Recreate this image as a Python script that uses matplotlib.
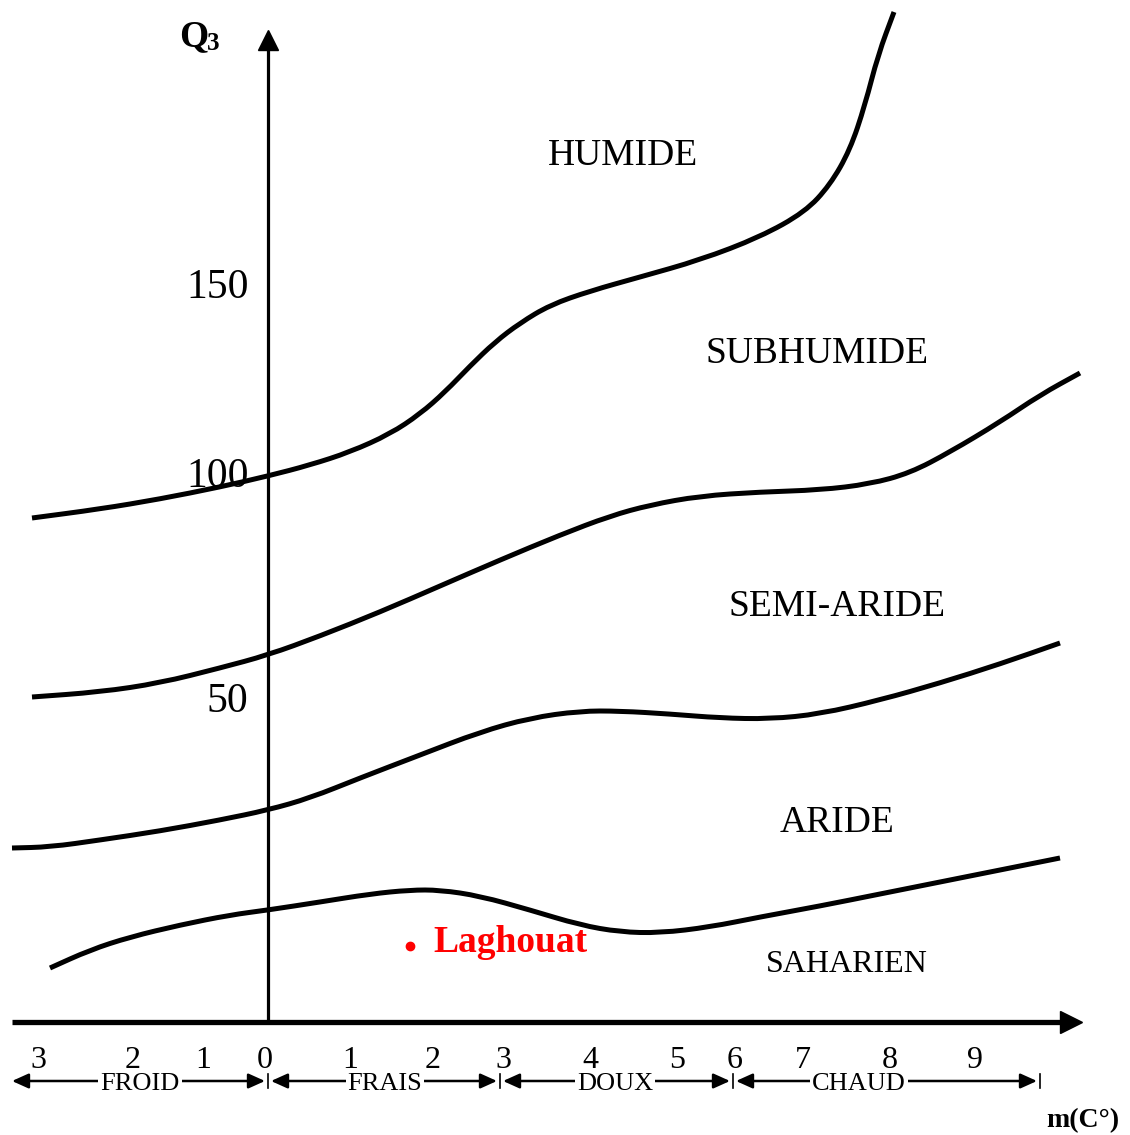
#!/usr/bin/env python3
"""Climagramme d'Emberger (Q3 en fonction de m) avec la station de Laghouat."""

import matplotlib
matplotlib.use('Agg')
import matplotlib.pyplot as plt
from matplotlib.path import Path
from matplotlib.patches import PathPatch

plt.rcParams['font.family'] = ['Liberation Serif', 'DejaVu Serif']

# Limites entre étages bioclimatiques (unités du schéma, axe y vers le bas)
limit_humide_x = [32, 100, 160, 220, 268, 310, 350, 390, 420, 445, 470, 495, 520,
                  550, 590, 640, 700, 760, 805, 830, 850, 865, 878, 894]
limit_humide_y = [518, 509, 499, 487, 476, 465, 452, 434, 414, 392, 366, 342, 323,
                  305, 291, 277, 260, 237, 212, 185, 150, 105, 55, 12]

limit_subhumide_x = [32, 100, 160, 220, 268, 320, 380, 440, 500, 560, 610, 650, 700,
                     760, 820, 870, 910, 950, 1000, 1040, 1080]
limit_subhumide_y = [697, 692, 683, 668, 655, 636, 612, 586, 560, 535, 516, 505, 496,
                     492, 490, 484, 473, 452, 422, 395, 373]

limit_semiaride_x = [12, 50, 100, 160, 220, 268, 310, 360, 420, 480, 530, 580, 620,
                     670, 720, 770, 820, 880, 940, 1000, 1060]
limit_semiaride_y = [848, 847, 840, 831, 820, 810, 798, 778, 755, 732, 718, 711, 711,
                     714, 718, 719, 714, 700, 683, 664, 643]

limit_aride_x = [50, 90, 130, 180, 230, 268, 320, 370, 410, 440, 480, 530, 580, 620,
                 660, 710, 760, 820, 880, 940, 1000, 1060]
limit_aride_y = [968, 950, 937, 925, 915, 910, 902, 894, 890, 890, 896, 910, 925, 932,
                 933, 927, 917, 906, 894, 882, 870, 858]

# Étages
zone_names = ['HUMIDE', 'SUBHUMIDE', 'SEMI-ARIDE', 'ARIDE', 'SAHARIEN']
zone_x = [623, 817, 837, 837, 847]
zone_y = [153, 351, 604, 820, 962]

# Station
station_name = 'Laghouat'
station_x = 410
station_y = 946

# Axe Q3
q3_ticks = [283, 472, 697]
q3_labels = ['150', '100', '50']

# Axe m
m_ticks = [38, 133, 203, 265, 350, 433, 503, 590, 677, 735, 803, 890, 975]
m_labels = ['3', '2', '1', '0', '1', '2', '3', '4', '5', '6', '7', '8', '9']

# Variantes thermiques
variant_names = ['FROID', 'FRAIS', 'DOUX', 'CHAUD']
variant_bounds = [12, 268, 500, 733, 1040]
variant_label_x = [140, 385, 615, 859]

X0, Y0 = 268, 1022


def smooth_path(xs, ys):
    # courbe de Bézier quadratique passant par les milieux des points lus
    pts = list(zip(xs, ys))
    verts = [pts[0], ((pts[0][0] + pts[1][0]) / 2, (pts[0][1] + pts[1][1]) / 2)]
    codes = [Path.MOVETO, Path.LINETO]
    for i in range(1, len(pts) - 1):
        mid = ((pts[i][0] + pts[i + 1][0]) / 2, (pts[i][1] + pts[i + 1][1]) / 2)
        verts += [pts[i], mid]
        codes += [Path.CURVE3, Path.CURVE3]
    verts.append(pts[-1])
    codes.append(Path.LINETO)
    return Path(verts, codes)


fig = plt.figure(figsize=(11.3, 11.35), dpi=100)
ax = fig.add_axes([0, 0, 1, 1])
ax.set_xlim(0, 1130)
ax.set_ylim(1135, 0)

for s in ['top', 'right']:
    ax.spines[s].set_visible(False)
ax.spines['left'].set_position(('data', X0))
ax.spines['left'].set_bounds(Y0, 45)
ax.spines['left'].set_linewidth(2.3)
ax.spines['bottom'].set_position(('data', Y0))
ax.spines['bottom'].set_bounds(12, 1066)
ax.spines['bottom'].set_linewidth(3.8)
ax.spines['bottom'].set_capstyle('butt')

# pointes de flèche des axes
ax.plot([X0], [40], marker='^', markersize=14, color='black', clip_on=False)
ax.plot([1071], [Y0], marker='>', markersize=16, color='black', clip_on=False)

ax.set_yticks(q3_ticks)
ax.set_yticklabels(q3_labels, fontsize=30)
ax.set_xticks(m_ticks)
ax.set_xticklabels(m_labels, fontsize=23)
ax.tick_params(axis='y', length=0, pad=14)
ax.tick_params(axis='x', length=0, pad=17)

# courbes limites
for xs, ys in [(limit_humide_x, limit_humide_y),
               (limit_subhumide_x, limit_subhumide_y),
               (limit_semiaride_x, limit_semiaride_y),
               (limit_aride_x, limit_aride_y)]:
    ax.add_patch(PathPatch(smooth_path(xs, ys), facecolor='none', edgecolor='black',
                           linewidth=3.6, capstyle='butt'))

# noms des étages
for name, zx, zy in zip(zone_names, zone_x, zone_y):
    size = 23 if name == 'SAHARIEN' else 27
    ax.text(zx, zy + 3, name, fontsize=size, ha='center', va='center')

# station
ax.plot([station_x], [station_y], 'o', color='red', markersize=6)
ax.text(station_x + 23, station_y - 4, station_name, color='red', fontsize=27,
        fontweight='bold', ha='left', va='center')

# Q3 et m(C°)
ax.text(179, 37, 'Q', fontsize=27, fontweight='bold', ha='left', va='center')
ax.text(207, 44, '3', fontsize=18, fontweight='bold', ha='left', va='center')
ax.text(1083, 1121, 'm(C°)', fontsize=20, fontweight='bold', ha='center', va='center')

# variantes thermiques (flèches sous l'axe)
ya = 1081
for i, name in enumerate(variant_names):
    left, right = variant_bounds[i], variant_bounds[i + 1]
    ax.annotate('', xy=(left + (0 if i == 0 else 3), ya), xytext=(right - 3, ya),
                arrowprops=dict(arrowstyle='<|-|>,head_length=1.0,head_width=0.45',
                                color='black', lw=1.8, shrinkA=0, shrinkB=0))
    ax.text(variant_label_x[i], ya + 3, name, fontsize=19, ha='center', va='center',
            bbox=dict(facecolor='white', edgecolor='none', pad=1.5))
for b in variant_bounds[1:]:
    ax.plot([b, b], [ya - 7, ya + 7], color='black', linewidth=1.2)

fig.savefig('out.png', dpi=100)
